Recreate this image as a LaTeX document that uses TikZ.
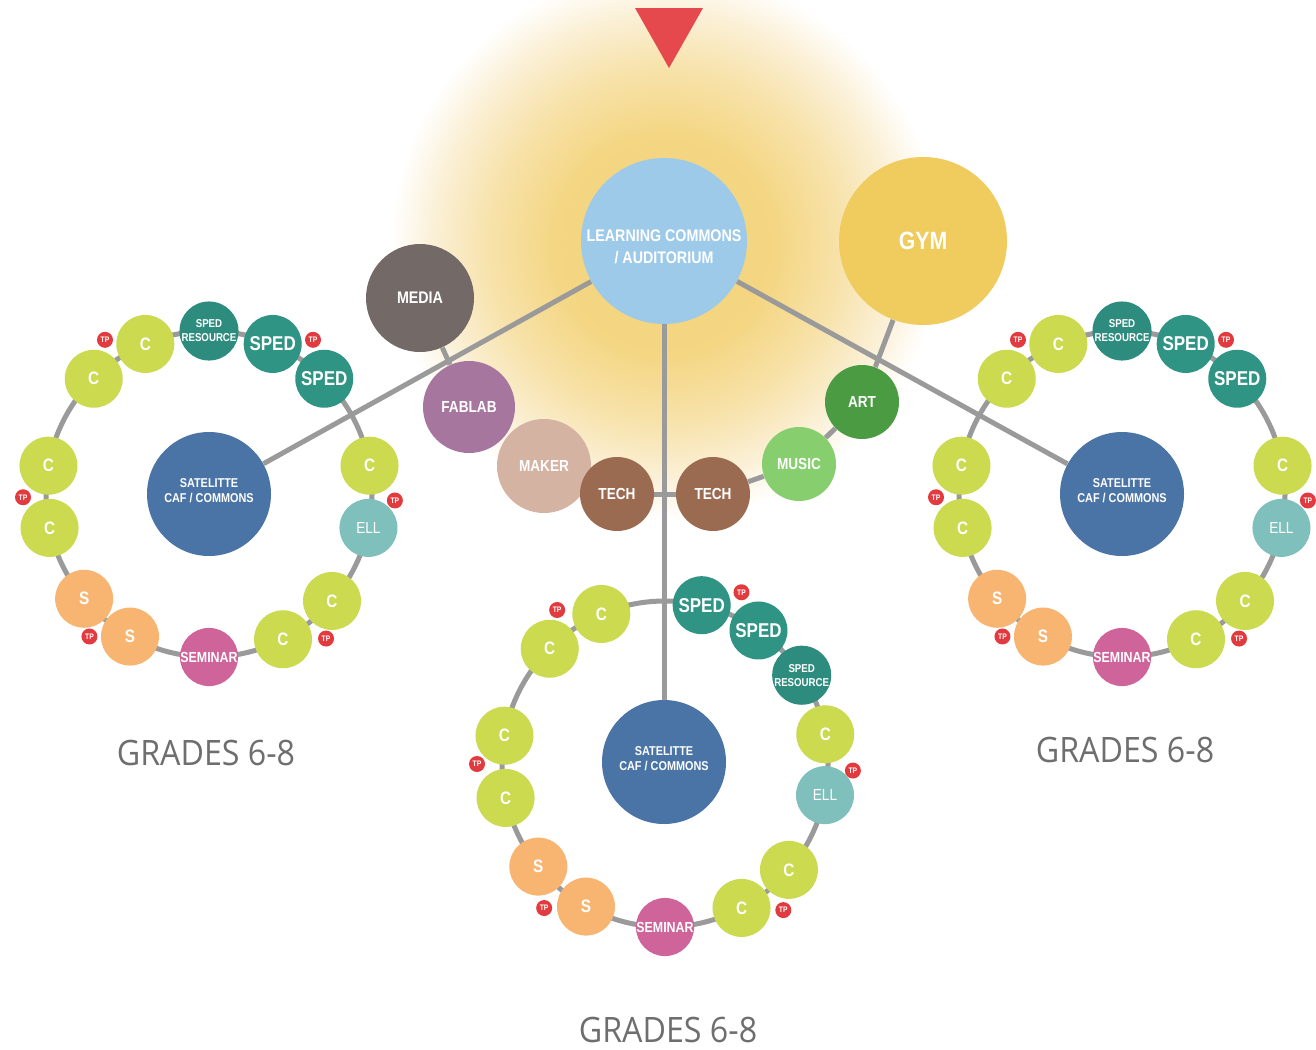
\documentclass[tikz,border=0pt]{standalone}
\usepackage{fontspec}
\usetikzlibrary{calc}
\newfontfamily\cf{Liberation Sans}[FakeStretch=0.85]
\newfontfamily\gf{Open Sans}[FakeStretch=0.92]
\definecolor{lcc}{HTML}{9DCAE9}
\definecolor{gymc}{HTML}{F0CB5E}
\definecolor{mediac}{HTML}{736966}
\definecolor{fabc}{HTML}{A7769F}
\definecolor{makerc}{HTML}{D5B3A2}
\definecolor{techc}{HTML}{9A6A51}
\definecolor{musicc}{HTML}{87CF6E}
\definecolor{artc}{HTML}{4A9B42}
\definecolor{satc}{HTML}{4A74A6}
\definecolor{cc}{HTML}{CBDA4F}
\definecolor{spedc}{HTML}{2F9484}
\definecolor{sresc}{HTML}{2E8C7E}
\definecolor{ellc}{HTML}{80C0BC}
\definecolor{sc}{HTML}{F8B572}
\definecolor{semc}{HTML}{CF649A}
\definecolor{tpc}{HTML}{E23B3F}
\definecolor{linec}{HTML}{9A9A9A}
\definecolor{tric}{HTML}{E5484D}
\definecolor{gradec}{HTML}{6E6E6E}
\definecolor{glowa}{HTML}{F3D278}
\definecolor{glowb}{HTML}{F4D683}
\definecolor{glowc}{HTML}{F7E2AA}
\definecolor{glowd}{HTML}{FBF0D6}
\pgfdeclareradialshading{glowsh}{\pgfpoint{0bp}{0bp}}{color(0bp)=(glowa); color(10bp)=(glowb); color(16bp)=(glowc); color(21bp)=(glowd); color(25bp)=(white); color(50bp)=(white)}
\pgfdeclarelayer{bgzero}
\pgfdeclarelayer{bgone}
\pgfsetlayers{bgzero,bgone,main}
\newcommand\sresl{SPED\\RESOURCE}
\newcommand\ringcircle[2]{\begin{pgfonlayer}{bgone}\draw[conn] (#1) circle (#2);\end{pgfonlayer}}
\begin{document}
\begin{tikzpicture}[x=0.5pt,y=-0.5pt,
  bub/.style={circle, inner sep=0pt, text=white, align=center, font=\cf\bfseries\fontsize{8}{10}\selectfont},
  conn/.style={draw=linec, line width=2.5pt},
  bigc/.style={bub, minimum size=#1},
  ntext/.style={inner sep=0pt, text=white, align=center},
  sat/.style={bub, fill=satc, minimum size=62pt},
  sattext/.style={ntext, font=\cf\bfseries\fontsize{6.4}{7.5}\selectfont},
  rc/.style={bub, fill=cc, minimum size=29pt, font=\cf\bfseries\fontsize{9}{10}\selectfont},
  rs/.style={bub, fill=sc, minimum size=29pt, font=\cf\bfseries\fontsize{9}{10}\selectfont},
  rsped/.style={bub, fill=spedc, minimum size=29pt, font=\cf\bfseries\fontsize{10}{11}\selectfont},
  rsres/.style={bub, fill=sresc, minimum size=29pt, font=\cf\bfseries\fontsize{5.7}{7}\selectfont},
  rell/.style={bub, fill=ellc, minimum size=29pt, font=\cf\fontsize{8}{10}\selectfont},
  rsem/.style={bub, fill=semc, minimum size=29pt, font=\cf\bfseries\fontsize{7.3}{9}\selectfont},
  tpb/.style={bub, fill=tpc, minimum size=8pt, font=\cf\bfseries\fontsize{4}{5}\selectfont},
  grd/.style={inner sep=0pt, text=gradec, font=\gf\fontsize{17.5}{20}\selectfont}
]
\useasboundingbox (0,0) rectangle (1316,1049);
\begin{pgfonlayer}{bgzero}
\fill[white] (0,0) rectangle (1316,1049);
\begin{scope}
\clip (0,0) rectangle (1316,1049);
\shade[shading=glowsh] (665,245) circle (275);
\end{scope}
\end{pgfonlayer}
\fill[tric] (635,8) -- (703,8) -- (669,68) -- cycle;

% central nodes
\node[bigc=83pt, fill=lcc] (lc) at (664,241) {};
\node[ntext, font=\cf\bfseries\fontsize{8.4}{11}\selectfont] (lctext) at (664,247) {LEARNING COMMONS\\/ AUDITORIUM};
\node[bigc=84pt, fill=gymc, font=\cf\bfseries\fontsize{12.5}{14}\selectfont] (gym) at (923,241) {GYM};
\node[bigc=54pt, fill=mediac, font=\cf\bfseries\fontsize{8.4}{10}\selectfont] (media) at (420,298) {MEDIA};
\node[bigc=46pt, fill=fabc] (fablab) at (469,407) {FABLAB};
\node[bigc=47pt, fill=makerc] (maker) at (544,466) {MAKER};
\node[bigc=37pt, fill=techc] (techa) at (617,494) {TECH};
\node[bigc=37pt, fill=techc] (techb) at (713,494) {TECH};
\node[bigc=37pt, fill=musicc] (music) at (799,464) {MUSIC};
\node[bigc=37pt, fill=artc] (art) at (862,402) {ART};

% side clusters
\foreach \p/\cx/\cy in {L/209/494, R/1122/494}{
  \coordinate (\p c) at (\cx,\cy);
  \ringcircle{\p c}{81.5pt}
  \node[sat] (\p sat) at (\cx,\cy) {};
  \node[sattext] (\p sattext) at ($(\p sat)+(0,1.5pt)$) {SATELITTE\\CAF / COMMONS};
  \foreach \a/\t/\s [count=\i] in {113/C/rc,90/\sresl/rsres,67/SPED/rsped,45/SPED/rsped,10/C/rc,-12/ELL/rell,-41/C/rc,-63/C/rc,-90/SEMINAR/rsem,-119/S/rs,-140/S/rs,-168/C/rc,170/C/rc,135/C/rc}
    {\node[\s] (\p r\i) at ($(\p c)+(\a:81.5pt)$) {\t};}
  \foreach \a [count=\i] in {124,56,-2,-51,-130,181}
    {\node[tpb] (\p tp\i) at ($(\p c)+(\a:93pt)$) {TP};}
}
% middle cluster
\coordinate (Mc) at (665,764);
\ringcircle{Mc}{81.5pt}
\node[sat] (Msat) at (664,762) {};
\node[sattext] (Msattext) at ($(Msat)+(0,1.5pt)$) {SATELITTE\\CAF / COMMONS};
\foreach \a/\t/\s [count=\i] in {113/C/rc,135/C/rc,170/C/rc,-168/C/rc,-141/S/rs,-119/S/rs,-90/SEMINAR/rsem,-62/C/rc,-40.5/C/rc,-11/ELL/rell,10.5/C/rc,33/\sresl/rsres,55/SPED/rsped,77/SPED/rsped}
  {\node[\s] (Mr\i) at ($(Mc)+(\a:81.5pt)$) {\t};}
\foreach \a [count=\i] in {125,66,-2,-51,-130,180}
  {\node[tpb] (Mtp\i) at ($(Mc)+(\a:94pt)$) {TP};}

% connectors
\begin{pgfonlayer}{bgone}
\draw[conn] (lc) -- (Lsat);
\draw[conn] (lc) -- (Rsat);
\draw[conn] (lc) -- (Msat);
\draw[conn] (media) -- (fablab);
\draw[conn] (techa) -- (techb);
\draw[conn] (techb) -- (music);
\draw[conn] (music) -- (art);
\draw[conn] (art) -- (gym);
\end{pgfonlayer}

% labels
\node[grd] (gl) at (206,753) {GRADES 6-8};
\node[grd] (gr) at (1125,750) {GRADES 6-8};
\node[grd] (gm) at (668,1030) {GRADES 6-8};
\end{tikzpicture}
\end{document}
